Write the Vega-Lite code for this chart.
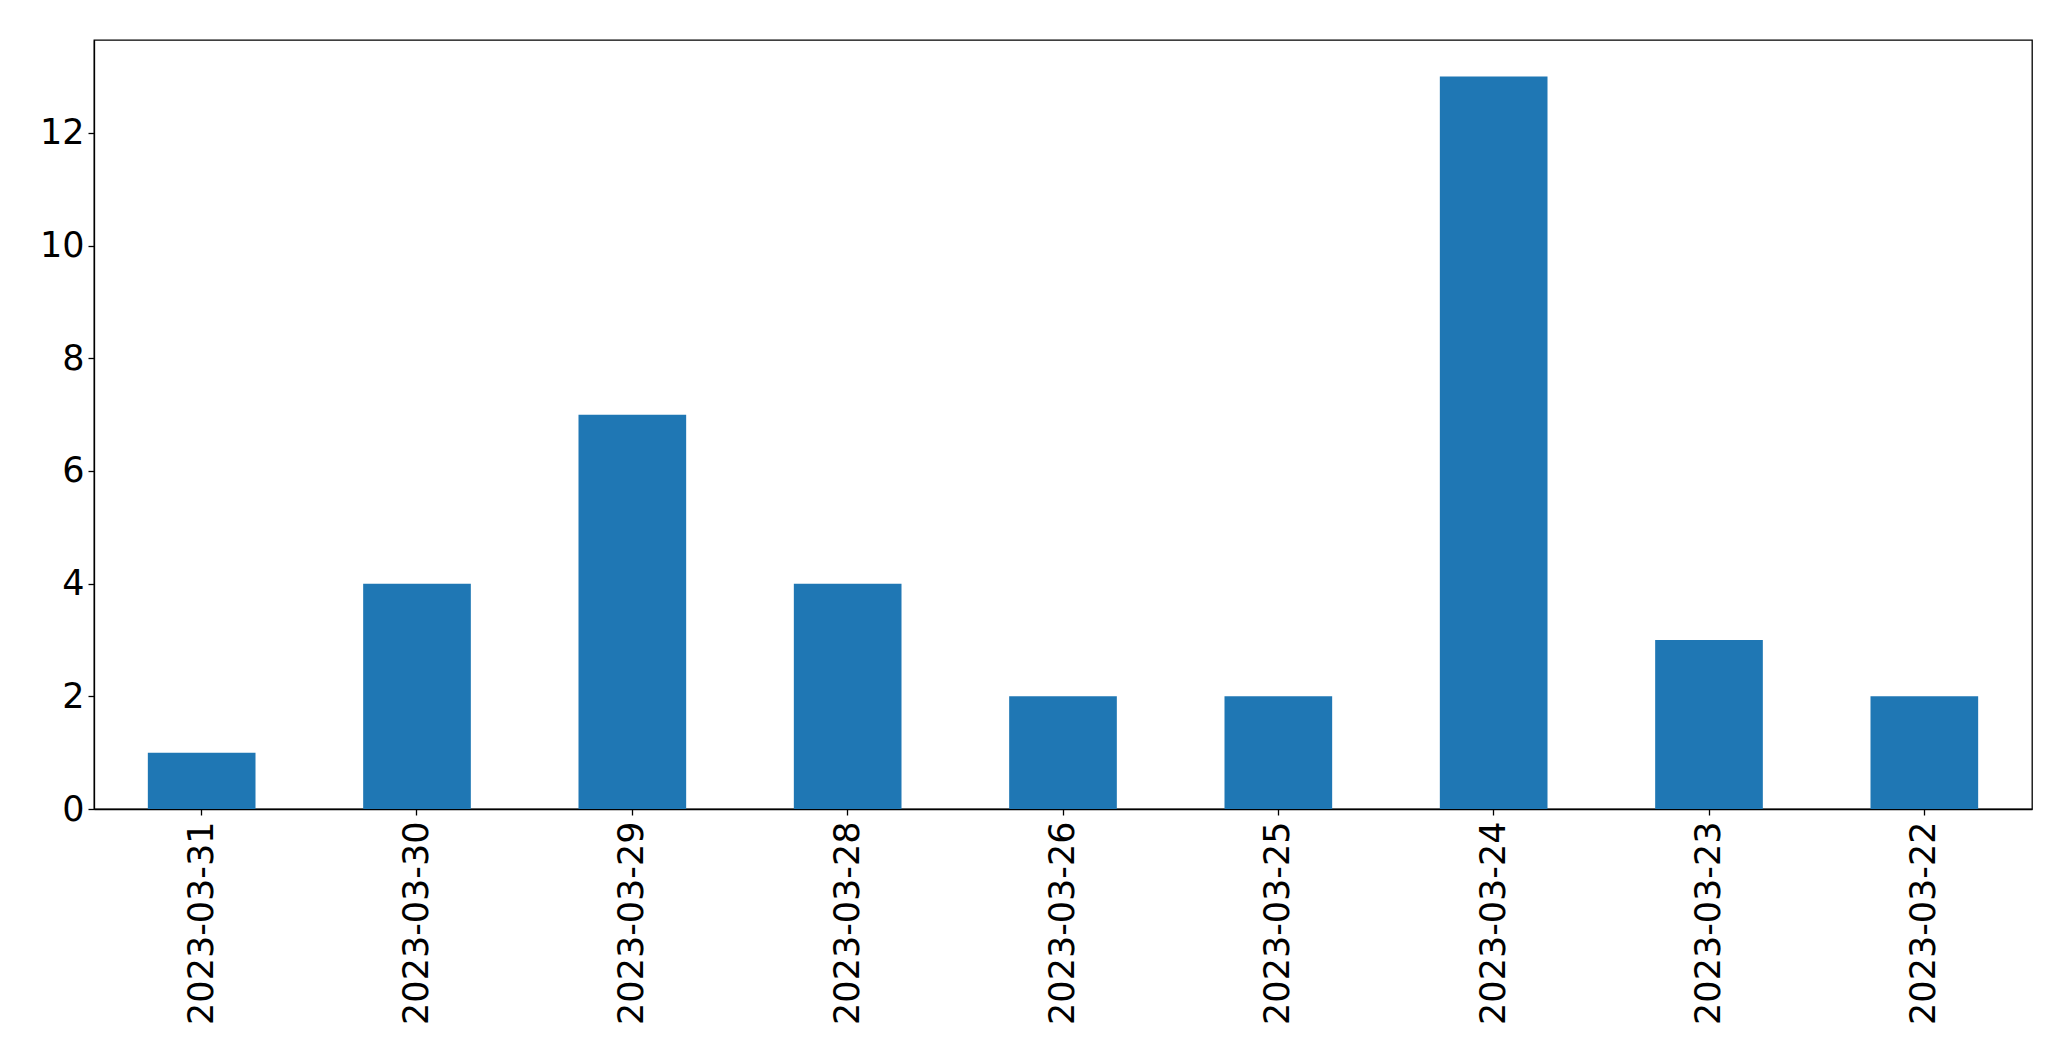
{
  "$schema": "https://vega.github.io/schema/vega-lite/v6.json",
  "autosize": "none",
  "width": 1938,
  "height": 769,
  "padding": {"left": 94, "top": 40, "right": 39, "bottom": 252},
  "background": "white",
  "config": {
    "view": {"stroke": "black", "strokeWidth": 1.3},
    "font": "DejaVu Sans",
    "axis": {
      "grid": false,
      "domainColor": "black",
      "domainWidth": 1.3,
      "tickColor": "black",
      "tickWidth": 1.3,
      "tickSize": 6,
      "labelColor": "black",
      "labelFont": "DejaVu Sans",
      "labelFontSize": 35,
      "labelLimit": 0,
      "title": null
    }
  },
  "data": {
    "values": [
      {"date": "2023-03-31", "count": 1},
      {"date": "2023-03-30", "count": 4},
      {"date": "2023-03-29", "count": 7},
      {"date": "2023-03-28", "count": 4},
      {"date": "2023-03-26", "count": 2},
      {"date": "2023-03-25", "count": 2},
      {"date": "2023-03-24", "count": 13},
      {"date": "2023-03-23", "count": 3},
      {"date": "2023-03-22", "count": 2}
    ]
  },
  "mark": {"type": "bar", "color": "#1f77b4"},
  "encoding": {
    "x": {
      "field": "date",
      "type": "nominal",
      "sort": null,
      "scale": {"paddingInner": 0.5, "paddingOuter": 0.25},
      "axis": {"labelAngle": -90, "labelPadding": 6, "labelLimit": 0, "title": null}
    },
    "y": {
      "field": "count",
      "type": "quantitative",
      "scale": {"domain": [0, 13.65], "nice": false, "zero": true},
      "axis": {"values": [0, 2, 4, 6, 8, 10, 12], "labelPadding": 4, "title": null}
    }
  }
}
